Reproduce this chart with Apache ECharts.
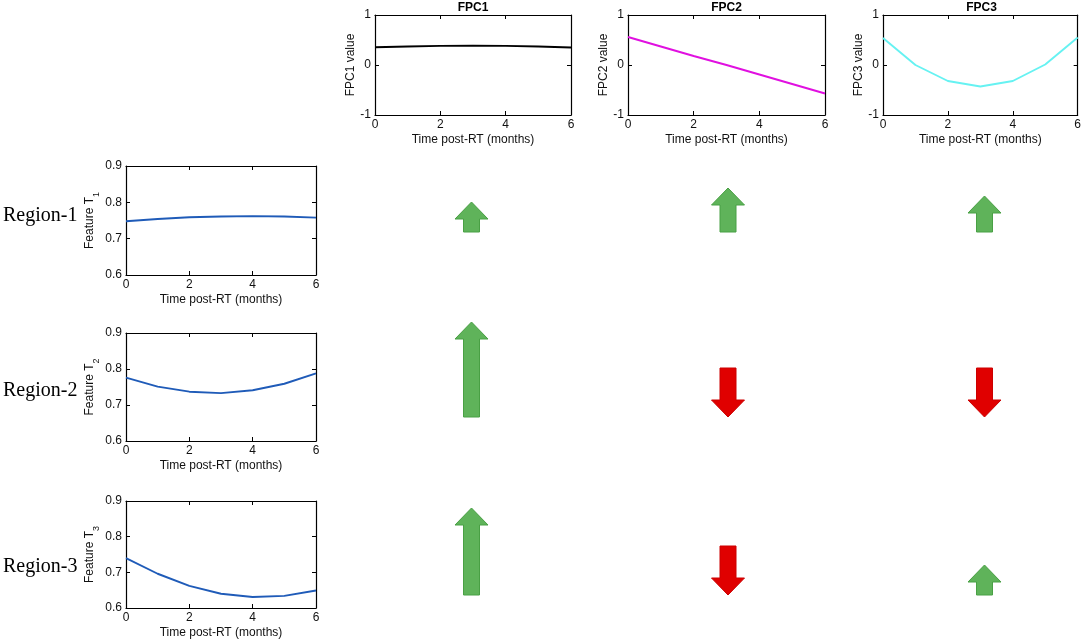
<!DOCTYPE html>
<html>
<head>
<meta charset="utf-8">
<script src="https://cdn.jsdelivr.net/npm/echarts@6/dist/echarts.min.js"></script>
<style>
  html, body { margin: 0; padding: 0; background: #fff; }
  #chart { width: 1084px; height: 641px; }
</style>
</head>
<body>
<div id="chart"></div>
<script>
// months after RT
var months = [0, 1, 2, 3, 4, 5, 6]

// functional principal components
var fpc1 = [0.355, 0.37, 0.383, 0.387, 0.383, 0.37, 0.35]
var fpc2 = [0.56, 0.37, 0.18, 0.0, -0.19, -0.38, -0.57]
var fpc3 = [0.54, 0.0, -0.32, -0.43, -0.32, 0.01, 0.55]

// mean feature curves per region
var featT1 = [0.748, 0.754, 0.759, 0.761, 0.762, 0.761, 0.758]
var featT2 = [0.776, 0.751, 0.737, 0.733, 0.741, 0.759, 0.788]
var featT3 = [0.740, 0.696, 0.662, 0.640, 0.631, 0.634, 0.649]

var fpcNames = ['FPC1', 'FPC2', 'FPC3']
var regionNames = ['Region-1', 'Region-2', 'Region-3']

// signed arrow magnitudes (row = region, col = FPC)
var arrowScores = [
    [0.30, 0.44, 0.36],
    [0.95, -0.49, -0.49],
    [0.87, -0.49, 0.30]
]

var fontSans = 'Liberation Sans, Arial, sans-serif'

function pairs(ys) {
    return months.map(function(m, i) { return [m, ys[i]] })
}

var grids = [], xAxes = [], yAxes = [], series = [], titles = []

// one matlab-like boxed plot
function addPlot(box, yMin, yMax, yStep, yName, color, values) {
    var g = grids.length
    grids.push(box)
    var tick = { show: true, inside: true, length: 4, lineStyle: { color: '#000' } }
    var line = { show: true, onZero: false, lineStyle: { color: '#000', width: 1.2 } }
    xAxes.push({
        gridIndex: g, type: 'value', min: 0, max: 6, interval: 2, position: 'bottom',
        axisLine: line, axisTick: tick, splitLine: { show: false },
        axisLabel: { color: '#111', fontFamily: fontSans, fontSize: 12, margin: 4 },
        name: 'Time post-RT (months)', nameLocation: 'middle', nameGap: 19,
        nameTextStyle: { color: '#111', fontFamily: fontSans, fontSize: 12 }
    })
    xAxes.push({
        gridIndex: g, type: 'value', min: 0, max: 6, interval: 2, position: 'top',
        axisLine: line, axisTick: tick, axisLabel: { show: false }, splitLine: { show: false }
    })
    yAxes.push({
        gridIndex: g, type: 'value', min: yMin, max: yMax, interval: yStep, position: 'left',
        axisLine: line, axisTick: tick, splitLine: { show: false },
        axisLabel: { color: '#111', fontFamily: fontSans, fontSize: 12, margin: 4 },
        name: yName, nameLocation: 'middle', nameGap: yStep < 1 ? 19 : 12, nameRotate: 90,
        nameTextStyle: {
            color: '#111', fontFamily: fontSans, fontSize: 12,
            rich: { sub: { fontSize: 9, verticalAlign: 'bottom', padding: [0, 0, -6, 0], fontFamily: fontSans, color: '#111' } }
        }
    })
    yAxes.push({
        gridIndex: g, type: 'value', min: yMin, max: yMax, interval: yStep, position: 'right',
        axisLine: line, axisTick: tick, axisLabel: { show: false }, splitLine: { show: false }
    })
    series.push({
        type: 'line', xAxisIndex: 2 * g, yAxisIndex: 2 * g, data: pairs(values),
        symbol: 'none', smooth: false, lineStyle: { color: color, width: 1.9 }
    })
}

addPlot({ left: 375, top: 15, width: 196, height: 100 }, -1, 1, 1, 'FPC1 value', '#000000', fpc1)
addPlot({ left: 628, top: 15, width: 197, height: 100 }, -1, 1, 1, 'FPC2 value', '#e010e0', fpc2)
addPlot({ left: 883, top: 15, width: 197, height: 100 }, -1, 1, 1, 'FPC3 value', '#66f2f2', fpc3)
addPlot({ left: 126, top: 166, width: 190, height: 109 }, 0.6, 0.9, 0.1, 'Feature T{sub|1}', '#1f5bb8', featT1)
addPlot({ left: 126, top: 333, width: 190, height: 108 }, 0.6, 0.9, 0.1, 'Feature T{sub|2}', '#1f5bb8', featT2)
addPlot({ left: 126, top: 501, width: 190, height: 107 }, 0.6, 0.9, 0.1, 'Feature T{sub|3}', '#1f5bb8', featT3)

// FPC titles above the top plots
var titleCenters = [473, 726.5, 981.5]
fpcNames.forEach(function(n, i) {
    titles.push({
        text: n, left: titleCenters[i], top: 2, padding: 0, textAlign: 'center',
        textStyle: { fontFamily: fontSans, fontSize: 12, fontWeight: 'bold', color: '#000' }
    })
})

// region labels
var regionCenters = [215, 390, 566]
regionNames.forEach(function(n, i) {
    titles.push({
        text: n, left: 3, top: regionCenters[i] - 9, padding: 0,
        textStyle: { fontFamily: 'Liberation Serif, Times New Roman, serif', fontSize: 20, fontWeight: 'normal', color: '#000' }
    })
})

// arrow grids, one per region; baseline is the bottom of each grid
var arrowBottoms = [232, 417, 595]
function renderArrow(params, api) {
    var v = api.value(1)
    var base = api.coord([api.value(0), 0])
    var end = api.coord([api.value(0), Math.abs(v)])
    var cx = base[0], hw = 16.5, sw = 8, hh = 17
    var pts
    if (v >= 0) {
        var tip = end[1], bot = base[1]
        pts = [[cx - sw, bot], [cx - sw, tip + hh], [cx - hw, tip + hh], [cx, tip],
            [cx + hw, tip + hh], [cx + sw, tip + hh], [cx + sw, bot]]
    } else {
        var top = end[1], tipD = base[1]
        pts = [[cx - sw, top], [cx - sw, tipD - hh], [cx - hw, tipD - hh], [cx, tipD],
            [cx + hw, tipD - hh], [cx + sw, tipD - hh], [cx + sw, top]]
    }
    return {
        type: 'polygon',
        shape: { points: pts },
        style: v >= 0
            ? { fill: '#5fb35a', stroke: '#49a044', lineWidth: 1 }
            : { fill: '#e00000', stroke: '#cc0000', lineWidth: 1 }
    }
}

arrowScores.forEach(function(row, r) {
    var g = grids.length
    grids.push({ left: 471.5, width: 513, top: arrowBottoms[r] - 100, height: 100 })
    xAxes.push({
        gridIndex: g, type: 'category', data: fpcNames, boundaryGap: false, show: false
    })
    yAxes.push({ gridIndex: g, type: 'value', min: 0, max: 1, show: false })
    series.push({
        type: 'custom', xAxisIndex: xAxes.length - 1, yAxisIndex: yAxes.length - 1,
        renderItem: renderArrow,
        data: row.map(function(v, c) { return [c, v] })
    })
})

var chart = echarts.init(document.getElementById('chart'))
chart.setOption({
    backgroundColor: '#fff',
    animation: false,
    title: titles,
    grid: grids,
    xAxis: xAxes,
    yAxis: yAxes,
    series: series
})
</script>
</body>
</html>
